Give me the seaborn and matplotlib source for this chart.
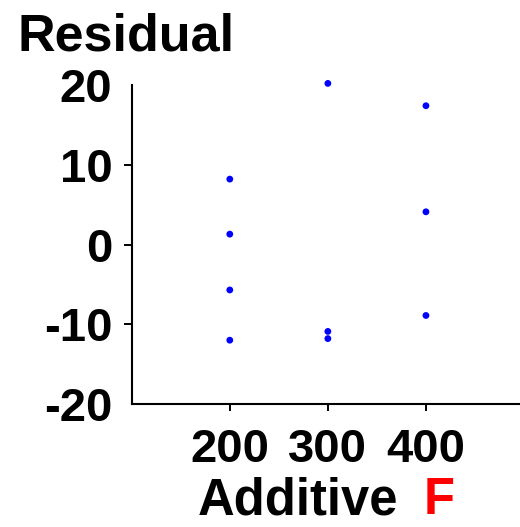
import pandas as pd
import numpy as np
import matplotlib
matplotlib.use('Agg')
import matplotlib.pyplot as plt
import seaborn as sns

# data
additive = [200, 200, 200, 200, 300, 300, 300, 400, 400, 400]
residual = [8.2, 1.3, -5.7, -12.0, 20.2, -10.9, -11.8, 17.4, 4.1, -8.9]
x_ticks = [200, 300, 400]
y_ticks = [-20, -10, 0, 10, 20]

data = pd.DataFrame({'additive': additive, 'residual': residual})

sns.set_style('ticks')
plt.rcParams['font.family'] = ['Liberation Sans', 'DejaVu Sans']
plt.rcParams['font.weight'] = 'bold'
plt.rcParams['text.color'] = 'black'
plt.rcParams['xtick.color'] = 'black'
plt.rcParams['ytick.color'] = 'black'

fig = plt.figure(figsize=(5.2, 5.27), dpi=100)
ax = fig.add_axes([0.2533, 0.2334, 0.745, 0.6053])

sns.scatterplot(x='additive', y='residual', data=data, color='#0000ff',
                s=24, edgecolor='none', ax=ax, clip_on=False)

ax.set_xlim(100, 495)
ax.set_ylim(-20, 20)
ax.set_xticks(x_ticks)
ax.set_yticks(y_ticks)
ax.set_xticklabels([str(v) for v in x_ticks], fontsize=34, fontweight='bold', color='black')
ax.set_yticklabels([str(v) for v in y_ticks], fontsize=34, fontweight='bold', color='black')
ax.tick_params(axis='x', length=5, width=1.4, pad=12, color='black')
ax.tick_params(axis='y', length=6, width=1.4, pad=8, color='black')
yt = ax.yaxis.get_major_ticks()
yt[0].tick1line.set_visible(False)
yt[-1].tick1line.set_visible(False)

sns.despine(ax=ax)
for side in ['left', 'bottom']:
    ax.spines[side].set_linewidth(1.5)
    ax.spines[side].set_color('black')
ax.set_xlabel('')
ax.set_ylabel('')

# titles
fig.text(0.033, 0.905, 'Residual', fontsize=37.5, fontweight='bold', color='black',
         ha='left', va='baseline')
fig.text(0.766, 0.024, 'Additive', fontsize=36.5, fontweight='bold', color='black',
         ha='right', va='baseline')
fig.text(0.814, 0.024, 'F', fontsize=36.5, fontweight='bold', color='#ff0000',
         ha='left', va='baseline')

fig.savefig('out.png', dpi=100)
